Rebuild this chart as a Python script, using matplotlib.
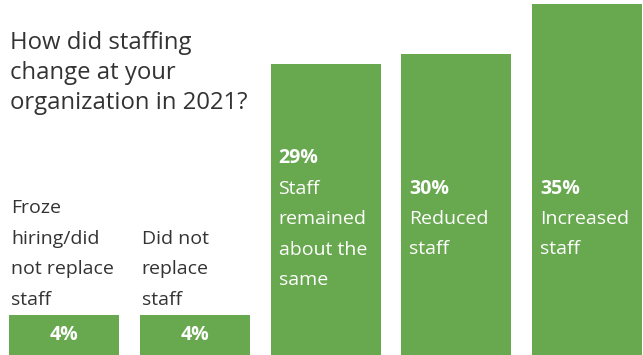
import numpy as np
import matplotlib.pyplot as plt

plt.rcParams['font.family'] = ['Open Sans', 'DejaVu Sans']

title = ["How did staffing", "change at your", "organization in 2021?"]
categories = ["Froze\nhiring/did\nnot replace\nstaff",
              "Did not\nreplace\nstaff",
              "Staff\nremained\nabout the\nsame",
              "Reduced\nstaff",
              "Increased\nstaff"]
values = [4, 4, 29, 30, 35]

green = '#68a84f'
ink = '#333333'
W, H = 643, 355

fig = plt.figure(figsize=(W / 100, H / 100), dpi=100)
ax = fig.add_axes([0, 0, 1, 1])
ytop = 35.4
x0, x1 = -0.4895, 4.428
ax.set_ylim(0, ytop)
ax.set_xlim(x0, x1)
ax.axis('off')

x = np.arange(len(values))
bw = 0.841
ax.bar(x, values, width=bw, color=green, align='center')

# pixel -> data unit conversions
uy = ytop / H
ux = (x1 - x0) / W
line = 30.5 * uy
fs = 14

for xi, v, cat in zip(x, values, categories):
    lines = cat.split('\n')
    left = xi - bw / 2
    if v < 10:
        # short bars: value inside, category stacked above
        ax.text(xi, v / 2, f"{v}%", color='white', fontsize=fs,
                fontweight='bold', ha='center', va='center')
        base = v + 15 * uy
        for k, ln in enumerate(reversed(lines)):
            ax.text(left + 2 * ux, base + k * line, ln, color=ink,
                    fontsize=fs, ha='left', va='center')
    else:
        # tall bars: value and category block centred around y=219px
        block = [f"{v}%"] + lines
        mid = (H - 219) * uy
        top = mid + (len(block) - 1) / 2 * line
        for k, ln in enumerate(block):
            ax.text(left + 8 * ux, top - k * line, ln,
                    color='white', fontsize=fs,
                    fontweight='bold' if k == 0 else 'normal',
                    ha='left', va='center')

for k, ln in enumerate(title):
    fig.text(10 / W, 1 - (43 + 30 * k) / H, ln, color=ink, fontsize=17.2,
             ha='left', va='center')

fig.savefig('out.png', dpi=100)
